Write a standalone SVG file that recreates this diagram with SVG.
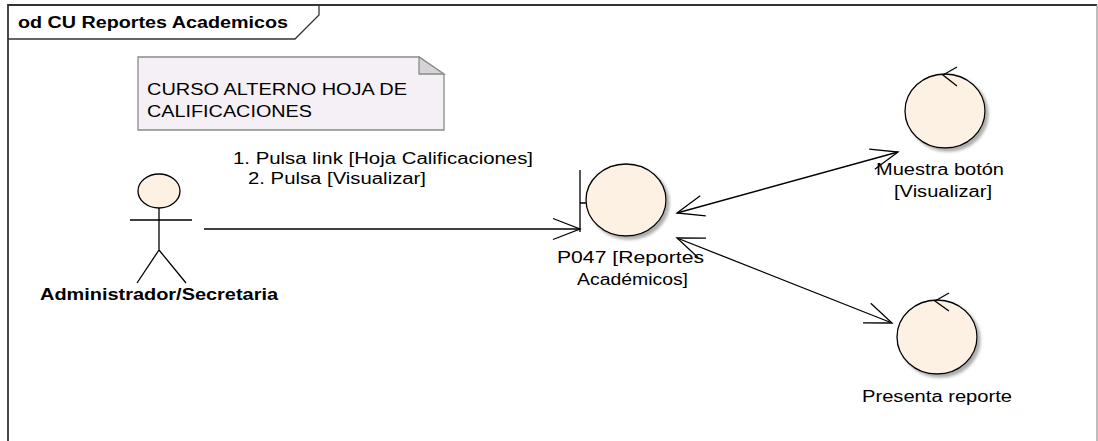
<svg xmlns="http://www.w3.org/2000/svg" width="1098" height="441" viewBox="0 0 1098 441">
<style>
  text { font-family: "Liberation Sans", Arial, sans-serif; font-size: 16px; fill: #000; }
  .b { font-weight: bold; }
  .ln { stroke: #000; stroke-width: 1.3; fill: none; }
  .ctl { fill: #fcf1e3; stroke: #000; stroke-width: 1.3; filter: url(#sh); }
  .note { fill: #f5f0f5; stroke: #8a8a8a; stroke-width: 1.3; }
</style>
<defs>
  <filter id="sh" x="-20%" y="-20%" width="150%" height="150%">
    <feDropShadow dx="3" dy="3" stdDeviation="1.5" flood-color="#777" flood-opacity="0.6"/>
  </filter>
  <marker id="arr" markerUnits="userSpaceOnUse" markerWidth="32" markerHeight="26" viewBox="-30 -13 32 26" refX="0" refY="0" orient="auto-start-reverse">
    <path d="M-27,-10.5 L0,0 L-27,10.5" fill="none" stroke="#000" stroke-width="1.3"/>
  </marker>
</defs>
<rect width="1098" height="441" fill="#fff"/>
<g id="frame">
  <path d="M8,441 L8,5 L1097,5" fill="none" stroke="#333" stroke-width="1.8"/>
  <path d="M1097,5 L1097,441" fill="none" stroke="#999" stroke-width="1.3"/>
  <path d="M8,39 L295,39 L319,15 L319,5" fill="none" stroke="#333" stroke-width="1.3"/>
  <text class="b" x="18" y="28" textLength="270" lengthAdjust="spacingAndGlyphs">od CU Reportes Academicos</text>
</g>
<g id="note">
  <path class="note" d="M138,57 L419,57 L444,74 L444,130 L138,130 Z"/>
  <path d="M419,57 L419,74 L444,74 Z" fill="#d4d4d4" stroke="#8a8a8a" stroke-width="1.3"/>
  <text x="147" y="95" textLength="260" lengthAdjust="spacingAndGlyphs">CURSO ALTERNO HOJA DE</text>
  <text x="147" y="117" textLength="165" lengthAdjust="spacingAndGlyphs">CALIFICACIONES</text>
</g>
<g id="actor">
  <ellipse cx="159" cy="191" rx="21" ry="17" fill="#fcf1e3" stroke="#000" stroke-width="1.3"/>
  <path class="ln" d="M159,208 L159,250 M130,220 L192,220 M159,250 L137,283 M159,250 L186,283"/>
  <text class="b" x="40" y="300" textLength="238" lengthAdjust="spacingAndGlyphs">Administrador/Secretaria</text>
</g>
<g id="boundary">
  <ellipse class="ctl" cx="626" cy="200" rx="40" ry="36"/>
  <path class="ln" d="M580,170 L580,232 M580,203 L586,203" stroke-width="1.8"/>
  <text x="557" y="263" textLength="147" lengthAdjust="spacingAndGlyphs">P047 [Reportes</text>
  <text x="577" y="285" textLength="111" lengthAdjust="spacingAndGlyphs">Académicos]</text>
</g>
<g id="control-muestra">
  <ellipse class="ctl" cx="945" cy="111" rx="40" ry="37"/>
  <path class="ln" d="M957,67 L943,75 L957,86"/>
  <text x="876" y="175" textLength="128" lengthAdjust="spacingAndGlyphs">Muestra botón</text>
  <text x="894" y="197" textLength="98" lengthAdjust="spacingAndGlyphs">[Visualizar]</text>
</g>
<g id="control-presenta">
  <ellipse class="ctl" cx="937" cy="337" rx="40" ry="37"/>
  <path class="ln" d="M949,293 L935,301 L949,311"/>
  <text x="862" y="402" textLength="150" lengthAdjust="spacingAndGlyphs">Presenta reporte</text>
</g>
<g id="connectors">
  <line class="ln" x1="204" y1="229" x2="580" y2="229" marker-end="url(#arr)"/>
  <line class="ln" x1="677" y1="213" x2="898" y2="152" marker-start="url(#arr)" marker-end="url(#arr)"/>
  <line class="ln" x1="677" y1="238" x2="892" y2="323" marker-start="url(#arr)" marker-end="url(#arr)"/>
  <text x="233" y="164" textLength="300" lengthAdjust="spacingAndGlyphs">1. Pulsa link [Hoja Calificaciones]</text>
  <text x="248" y="184" textLength="178" lengthAdjust="spacingAndGlyphs">2. Pulsa [Visualizar]</text>
</g>
</svg>
